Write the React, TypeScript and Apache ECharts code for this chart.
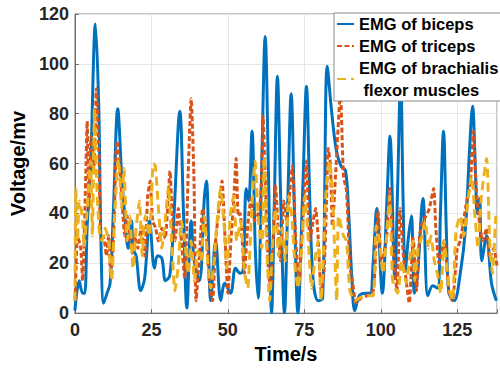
import React, { useEffect, useRef } from "react";
import * as echarts from "echarts";

const xTicks = [0, 25, 50, 75, 100, 125];
const yTicks = [0, 20, 40, 60, 80, 100, 120];
const seriesNames = ["EMG of biceps", "EMG of triceps", "EMG of brachialis\n flexor muscles"];

const biceps: [number, number][] = [
  [0, 1], [1.4, 13], [2.5, 8], [3.2, 8], [4, 35], [5.1, 58], [6.7, 116], [7.8, 82], [8.5, 29], [9.4, 4],
  [10.5, 8], [11.5, 12], [12.6, 42], [14, 82], [15.3, 55], [16.3, 39], [17.4, 26], [18.5, 37], [19, 26], [20, 23],
  [21.5, 9], [22.8, 14], [24.4, 37], [26, 18], [27, 23], [28.4, 22], [29.6, 13], [31, 15], [32.2, 35], [34.3, 81],
  [35.5, 40], [36.6, 2], [38, 37], [39, 21], [40.7, 13], [42.3, 46], [43, 53], [44.4, 5], [46, 29], [47.7, 5],
  [49, 12], [50.9, 8], [52.5, 18], [54, 16], [55, 17], [56, 50], [56.8, 45], [57.9, 73], [59, 25], [59.9, 6],
  [61, 55], [62.2, 111], [63.3, 55], [64.3, 0], [65.2, 45], [66.2, 95], [67.3, 45], [68.5, 0], [69.6, 45], [70.7, 88],
  [71.8, 40], [72.9, 0], [74.5, 50], [75.7, 91], [76.8, 45], [77.9, 13], [79.5, 5], [81, 6], [82.5, 99], [84, 80],
  [85.5, 65], [87, 59], [88.5, 57], [89.5, 40], [90.5, 15], [91.5, 1], [93, 7], [95, 8], [96.5, 8], [97.5, 20],
  [98.7, 42], [100.5, 8], [102, 45], [103, 71], [104.6, 14], [105.5, 50], [106.5, 95], [107.3, 45], [108, 17], [109, 30],
  [110, 39], [111, 8], [112, 15], [113.8, 46], [115.4, 7], [117, 11], [118.6, 10], [119.5, 40], [120.5, 73], [121.5, 30],
  [122.3, 8], [124, 5], [126, 16], [127.7, 34], [129, 65], [130, 83], [131, 55], [131.5, 40], [132.3, 46], [133, 21],
  [134.6, 31], [136.2, 12], [137.8, 5],
];

const triceps: [number, number][] = [
  [0, 5], [0.3, 15], [0.85, 31], [1.9, 26], [2.5, 13], [3.5, 53], [4, 77], [4.6, 42], [5.3, 71], [6.2, 58],
  [7, 90], [7.8, 66], [8.5, 30], [9.4, 30], [10.3, 23], [11, 31], [11.7, 15], [12.6, 29], [13.7, 69], [14.5, 61],
  [15.3, 47], [16.3, 31], [17.1, 39], [17.9, 29], [18.8, 24], [19.5, 31], [20.6, 26], [21.7, 35], [22.8, 23], [23.8, 47],
  [24.6, 53], [25.4, 37], [26.4, 34], [27.3, 29], [28.4, 34], [29.5, 30], [31.1, 57], [31.8, 39], [32.7, 29], [33.8, 42],
  [34.8, 29], [35.9, 14], [37, 55], [38, 86], [38.9, 55], [39.6, 5], [40.7, 23], [41.8, 42], [42.8, 35], [43.9, 13],
  [45, 5], [46, 29], [47.1, 42], [48.1, 53], [48.9, 35], [50, 8], [51, 29], [51.9, 45], [52.7, 62], [53.4, 39],
  [54, 40], [54.7, 29], [55.4, 16], [56.5, 35], [57.6, 46], [58.7, 37], [59.7, 39], [60.8, 47], [61.5, 79], [62.4, 47],
  [63.3, 16], [64, 10], [64.8, 29], [65.6, 51], [66.4, 35], [67.2, 21], [68.3, 45], [69.3, 37], [70.4, 51], [71.1, 59],
  [72.2, 29], [73.3, 13], [74.4, 35], [75.7, 61], [76.8, 29], [77.9, 37], [78.7, 42], [79.5, 31], [80.5, 9], [81.4, 16],
  [82.2, 42], [82.8, 66], [83.5, 60], [84.2, 35], [85.2, 55], [86.8, 88], [87.8, 55], [88.8, 49], [89.9, 19], [90.8, 12],
  [91.5, 6], [92, 4], [93.5, 6], [95.5, 7], [97.5, 9], [98, 16], [99.1, 41], [100.2, 21], [101.8, 29], [102.9, 50],
  [103.9, 29], [105.3, 9], [106.3, 42], [107.4, 23], [108.3, 13], [109.3, 4], [110.6, 30], [111.7, 9], [112.7, 31], [113.8, 37],
  [114.8, 39], [115.9, 42], [117.3, 50], [118, 34], [119.1, 20], [120.7, 29], [122.3, 8], [123.4, 5], [125, 26], [126, 29],
  [127.7, 42], [129.3, 53], [130.3, 73], [131.2, 50], [132.2, 37], [133.3, 29], [134.6, 34], [135.6, 22], [136.9, 26], [138, 19],
];

const brachialis: [number, number][] = [
  [0, 5], [0.3, 50], [0.85, 29], [1.4, 45], [2.5, 38], [3, 26], [4, 42], [5.1, 61], [5.7, 31], [6.4, 82],
  [7, 55], [8.1, 31], [8.9, 29], [9.9, 34], [11, 29], [12, 13], [13.1, 42], [14.2, 62], [15.3, 42], [16, 58],
  [17.1, 29], [17.9, 39], [19, 18], [20, 34], [21.1, 45], [22, 23], [23, 39], [24.4, 31], [25.6, 60], [26.3, 59],
  [27.3, 42], [28.4, 26], [29.5, 37], [30.6, 51], [31.6, 29], [32.7, 9], [33.8, 19], [34.8, 37], [35.9, 29], [37, 16],
  [38, 29], [39.1, 13], [40.2, 25], [41.2, 21], [42.3, 39], [43.4, 21], [44.4, 10], [45.5, 21], [46.5, 37], [47.6, 50],
  [48.7, 37], [49.7, 18], [50.8, 39], [51.9, 47], [52.9, 29], [54.2, 37], [55.4, 17], [56.5, 10], [57.6, 37], [58.9, 61],
  [60, 37], [61.1, 26], [61.9, 63], [62.6, 29], [63.7, 5], [64.5, 26], [65.6, 42], [66.6, 23], [67.7, 34], [68.8, 21],
  [69.9, 47], [70.9, 39], [72, 18], [73, 10], [74.1, 26], [75.2, 47], [76.3, 29], [77.4, 10], [78.4, 21], [79.5, 29],
  [80.5, 5], [81.8, 42], [82.5, 55], [83.3, 61], [84.4, 42], [85.6, 5], [86.2, 39], [87.8, 31], [88.8, 29], [89.9, 9],
  [91.5, 5], [93, 6], [95, 7], [97.5, 7], [98.5, 35], [99.6, 29], [100.7, 16], [101.8, 29], [102.9, 47], [103.9, 13],
  [105.5, 8], [106.9, 21], [108.3, 12], [109.6, 23], [110.5, 29], [111.1, 13], [112.2, 26], [113.5, 31], [114.5, 37], [115.6, 26],
  [116.4, 31], [117.5, 21], [118.5, 16], [119.6, 8], [120.7, 29], [122.3, 10], [123.4, 5], [124.6, 33], [126, 39], [127.1, 31],
  [128.7, 47], [129.7, 55], [130.8, 39], [131.8, 26], [132.9, 47], [134.6, 62], [135.6, 29], [136.5, 16], [137.6, 39],
];

const FONT = "'Liberation Sans', Arial, Helvetica, sans-serif";

export default function App() {
  const ref = useRef<HTMLDivElement>(null);
  useEffect(() => {
    if (!ref.current) return;
    const chart = echarts.init(ref.current, undefined, { renderer: "svg" });
    const xStep = xTicks[1] - xTicks[0];
    const yStep = yTicks[1] - yTicks[0];
    chart.setOption({
      animation: false,
      backgroundColor: "#fff",
      textStyle: { fontFamily: FONT },
      grid: { left: 68, right: 1, top: 14, bottom: 53, show: true, borderColor: "#8a8a8a", borderWidth: 1, backgroundColor: "transparent" },
      legend: {
        orient: "vertical",
        left: 334,
        top: 13,
        backgroundColor: "#fff",
        borderColor: "#8a8a8a",
        borderWidth: 1,
        borderRadius: 0,
        padding: [0, 60, 0, 2],
        itemGap: 0,
        itemWidth: 17,
        itemHeight: 10,
        itemStyle: { opacity: 0, borderWidth: 0 },
        data: seriesNames,
        textStyle: { fontFamily: FONT, fontWeight: "bold", fontSize: 16.5, color: "#000", lineHeight: 22 },
      },
      xAxis: {
        type: "value",
        min: xTicks[0],
        max: 138,
        interval: xStep,
        name: "Time/s",
        nameLocation: "middle",
        nameGap: 30,
        nameTextStyle: { fontFamily: FONT, fontWeight: "bold", fontSize: 20, color: "#000" },
        axisLine: { show: true, lineStyle: { color: "#6e6e6e", width: 1 } },
        axisTick: { show: true, inside: true, length: 4, lineStyle: { color: "#6e6e6e" } },
        axisLabel: {
          margin: 8,
          fontFamily: FONT,
          fontWeight: "bold",
          fontSize: 18,
          color: "#262626",
          formatter: (v: number) => (xTicks.includes(v) ? String(v) : ""),
        },
        splitLine: { show: true, lineStyle: { color: "#e6e6e6", width: 1 } },
      },
      yAxis: {
        type: "value",
        min: yTicks[0],
        max: yTicks[yTicks.length - 1],
        interval: yStep,
        name: "Voltage/mv",
        nameLocation: "middle",
        nameGap: 40,
        nameTextStyle: { fontFamily: FONT, fontWeight: "bold", fontSize: 20, color: "#000" },
        axisLine: { show: true, lineStyle: { color: "#6e6e6e", width: 1 } },
        axisTick: { show: true, inside: true, length: 4, lineStyle: { color: "#6e6e6e" } },
        axisLabel: { margin: 6, fontFamily: FONT, fontWeight: "bold", fontSize: 18, color: "#262626" },
        splitLine: { show: true, lineStyle: { color: "#e6e6e6", width: 1 } },
      },
      series: [
        {
          name: seriesNames[0],
          type: "line",
          data: biceps,
          showSymbol: false,
          symbol: "none",
          smooth: 0.35,
          lineStyle: { color: "#0072BD", width: 3, type: "solid" },
          itemStyle: { color: "#0072BD" },
          z: 2,
        },
        {
          name: seriesNames[1],
          type: "line",
          data: triceps,
          showSymbol: false,
          symbol: "none",
          smooth: 0.2,
          lineStyle: { color: "#D95319", width: 3, type: [5, 2.5] },
          itemStyle: { color: "#D95319" },
          z: 3,
        },
        {
          name: seriesNames[2],
          type: "line",
          data: brachialis,
          showSymbol: false,
          symbol: "none",
          smooth: 0.2,
          lineStyle: { color: "#EDB120", width: 3, type: [9, 5] },
          itemStyle: { color: "#EDB120" },
          z: 4,
        },
      ],
    });
    return () => chart.dispose();
  }, []);
  return <div ref={ref} style={{ position: "absolute", left: 0, top: 0, width: 500, height: 369 }} />;
}
